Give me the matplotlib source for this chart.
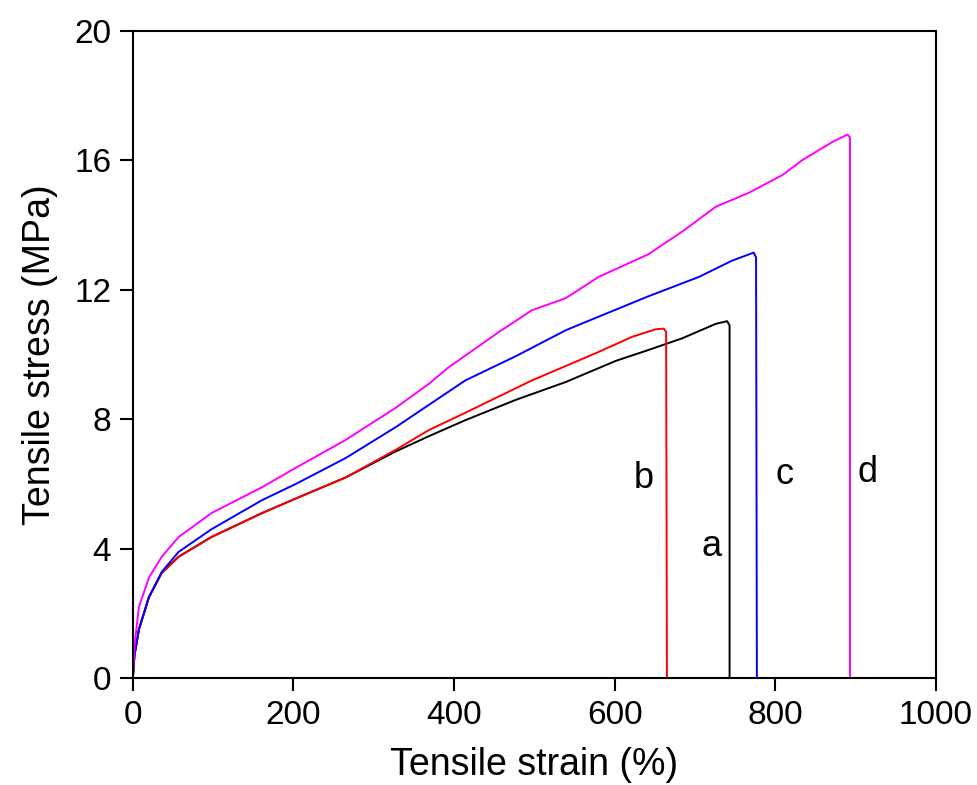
import matplotlib.pyplot as plt

plt.rcParams["font.family"] = ["Liberation Sans", "DejaVu Sans"]

# stress-strain curves, strain in %, stress in MPa
strain_a = [0, 2, 7.5, 20, 36, 57, 98, 161, 203, 265, 327, 369, 414, 477, 539,
            601, 642, 684, 726, 740, 743, 743]
stress_a = [0, 0.7, 1.5, 2.5, 3.25, 3.75, 4.36, 5.1, 5.55, 6.2, 7.0, 7.48, 7.97,
            8.6, 9.15, 9.8, 10.14, 10.5, 10.95, 11.03, 10.9, 0]

strain_b = [0, 2, 7.5, 20, 36, 57, 98, 161, 203, 265, 327, 369, 414, 497, 580,
            622, 651, 661, 664, 665]
stress_b = [0, 0.7, 1.5, 2.5, 3.25, 3.75, 4.36, 5.1, 5.55, 6.2, 7.05, 7.67, 8.2,
            9.2, 10.08, 10.55, 10.78, 10.8, 10.7, 0]

strain_c = [0, 2, 7.5, 20, 36, 57, 98, 161, 203, 265, 327, 369, 414, 477, 539,
            580, 642, 705, 746, 773, 776, 777]
stress_c = [0, 0.7, 1.5, 2.5, 3.28, 3.9, 4.6, 5.5, 6.0, 6.8, 7.75, 8.45, 9.2,
            9.95, 10.75, 11.17, 11.8, 12.4, 12.9, 13.15, 13.0, 0]

strain_d = [0, 2, 7.5, 20, 36, 57, 98, 161, 203, 265, 327, 369, 377, 393, 456,
            497, 539, 580, 642, 684, 726, 767, 809, 833, 871, 890, 893, 893]
stress_d = [0, 1.0, 2.2, 3.1, 3.75, 4.36, 5.1, 5.9, 6.5, 7.36, 8.35, 9.1, 9.27,
            9.6, 10.7, 11.37, 11.74, 12.4, 13.1, 13.8, 14.57, 15.0, 15.55, 16.0,
            16.57, 16.8, 16.7, 0]

labels = ["a", "b", "c", "d"]
label_pos = [(720, 4.05), (636, 6.18), (812, 6.28), (915, 6.34)]

fig = plt.figure(figsize=(9.77, 7.85), dpi=100)
ax = fig.add_axes([0.136, 0.1363, 0.822, 0.8242])

ax.plot(strain_a, stress_a, color="black", lw=1.4)
ax.plot(strain_b, stress_b, color="red", lw=1.4)
ax.plot(strain_c, stress_c, color="blue", lw=1.4)
ax.plot(strain_d, stress_d, color="magenta", lw=1.4)

for lab, (x, y) in zip(labels, label_pos):
    ax.text(x, y, lab, fontsize=26, ha="center", va="center")

ax.set_xlim(0, 1000)
ax.set_ylim(0, 20)
ax.set_xticks([0, 200, 400, 600, 800, 1000])
ax.set_yticks([0, 4, 8, 12, 16, 20])
ax.tick_params(direction="out", length=9.5, width=1.5, labelsize=24, pad=6)
for s in ax.spines.values():
    s.set_linewidth(1.5)

ax.set_xlabel("Tensile strain (%)", fontsize=27, labelpad=12)
ax.set_ylabel("Tensile stress (MPa)", fontsize=27, labelpad=12)

fig.savefig("out.png", dpi=100)
